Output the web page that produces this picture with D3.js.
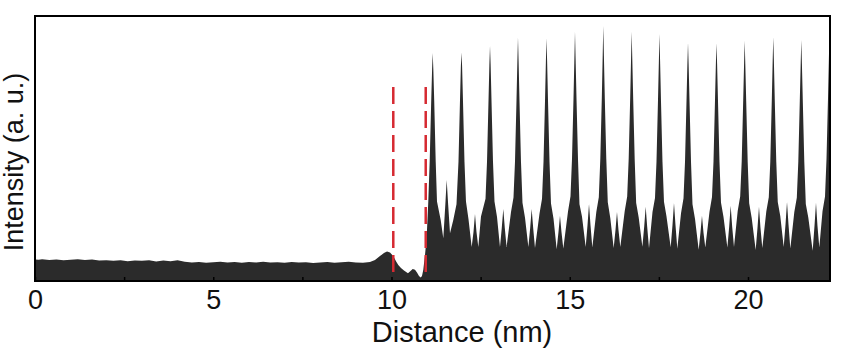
<!DOCTYPE html>
<html>
<head>
    <meta charset="utf-8">
    <title>Intensity profile</title>
    <script type="text/javascript" src="https://cdn.jsdelivr.net/npm/d3@7"></script>
    <style type="text/css">
        body { margin: 0; background: #fff; }
        text { font-family: "Liberation Sans", Arial, sans-serif; fill: #111; }
        .axis text { font-size: 27px; }
        .axis line { stroke: #000; stroke-width: 1.5px; }
        .title { font-size: 29px; }
        .ytitle { font-size: 27px; }
    </style>
</head>
<body>
<script type="text/javascript">
    // profile: distance (nm) / intensity (a.u., 0-100)
    var distance = [
        0.0, 0.1, 0.2, 0.4, 0.6, 0.8, 1.0, 1.2, 1.4, 1.6, 1.8, 2.0, 2.2, 2.4, 2.6, 2.8,
        3.0, 3.2, 3.4, 3.6, 3.8, 4.0, 4.2, 4.4, 4.6, 4.8, 5.0, 5.2, 5.4, 5.6, 5.8, 6.0,
        6.2, 6.4, 6.6, 6.8, 7.0, 7.2, 7.4, 7.6, 7.8, 8.0, 8.2, 8.4, 8.6, 8.8, 9.0, 9.2,
        9.397, 9.537, 9.677, 9.789, 9.874, 9.958, 10.050, 10.126, 10.190, 10.266, 10.350,
        10.462, 10.533, 10.595, 10.659, 10.715, 10.771, 10.819, 10.855, 10.892, 10.940,
        10.987, 11.032, 11.071, 11.114, 11.139, 11.156, 11.173, 11.198, 11.240, 11.276,
        11.380, 11.453, 11.509, 11.548, 11.590, 11.641, 11.733, 11.823, 11.879, 11.921,
        11.946, 11.963, 11.980, 12.005, 12.047, 12.089, 12.159, 12.249, 12.300, 12.342,
        12.384, 12.435, 12.510,
        12.637, 12.679, 12.721, 12.746, 12.763, 12.780, 12.805, 12.847, 12.889, 12.959,
        13.043, 13.093, 13.136, 13.178, 13.228,
        13.352, 13.422, 13.464, 13.506, 13.531, 13.548, 13.565, 13.590, 13.632, 13.674, 13.744,
        13.839, 13.890, 13.932, 13.974, 14.025,
        14.152, 14.222, 14.264, 14.306, 14.331, 14.348, 14.365, 14.390, 14.432, 14.474, 14.544,
        14.633, 14.684, 14.726, 14.768, 14.819,
        14.951, 15.021, 15.063, 15.105, 15.130, 15.147, 15.164, 15.189, 15.231, 15.273, 15.343,
        15.447, 15.498, 15.540, 15.582, 15.633,
        15.745, 15.815, 15.857, 15.899, 15.924, 15.941, 15.958, 15.983, 16.025, 16.067, 16.137,
        16.232, 16.283, 16.325, 16.367, 16.418,
        16.541, 16.611, 16.653, 16.695, 16.720, 16.737, 16.754, 16.779, 16.821, 16.863, 16.933,
        17.037, 17.088, 17.130, 17.172, 17.223,
        17.321, 17.391, 17.433, 17.475, 17.500, 17.517, 17.534, 17.559, 17.601, 17.643, 17.713,
        17.831, 17.882, 17.924, 17.966, 18.017,
        18.121, 18.191, 18.233, 18.275, 18.300, 18.317, 18.334, 18.359, 18.401, 18.443, 18.513,
        18.616, 18.667, 18.709, 18.751, 18.802,
        18.920, 18.990, 19.032, 19.074, 19.099, 19.116, 19.133, 19.158, 19.200, 19.242, 19.312,
        19.421, 19.472, 19.514, 19.556, 19.607,
        19.711, 19.781, 19.823, 19.865, 19.890, 19.907, 19.924, 19.949, 19.991, 20.033, 20.103,
        20.215, 20.266, 20.308, 20.350, 20.401,
        20.513, 20.583, 20.625, 20.667, 20.692, 20.709, 20.726, 20.751, 20.793, 20.835, 20.905,
        21.001, 21.052, 21.094, 21.136, 21.187,
        21.299, 21.369, 21.411, 21.453, 21.478, 21.495, 21.512, 21.537, 21.579, 21.621, 21.691,
        21.814, 21.865, 21.907, 21.949, 22.000,
        22.090, 22.160, 22.202, 22.244, 22.269, 22.286, 22.300
    ];

    var intensity = [
        8.1, 8.0, 8.2, 7.9, 8.1, 7.8, 8.0, 8.2, 7.9, 8.1, 7.7, 7.8, 7.6, 7.8, 7.5, 7.7,
        7.6, 7.8, 7.4, 7.7, 7.5, 7.8, 7.3, 7.0, 7.2, 6.9, 7.1, 7.3, 7.0, 7.2, 6.9, 7.2,
        7.0, 7.3, 7.0, 7.1, 6.9, 7.2, 7.0, 7.1, 6.8, 7.0, 7.2, 6.9, 7.1, 7.3, 7.0, 6.9,
        7.2, 7.9, 9.4, 10.6, 11.1, 10.8, 9.4, 7.5, 6.0, 4.9, 4.0,
        2.9, 3.8, 4.5, 4.2, 3.2, 1.9, 1.3, 1.9, 4.2, 9.8,
        16.7, 30.0, 45.0, 68.0, 80.0, 86.0, 80.0, 68.0, 45.0, 30.0,
        23.0, 16.1, 28.7, 38.1, 28.7, 18.0, 23.0, 29.0, 45.0, 68.0,
        81.0, 86.2, 81.0, 68.0, 45.0, 30.0, 23.4, 12.8, 18.5, 25.3,
        18.5, 12.8, 24.3,
        31.0, 45.0, 68.0, 82.0, 88.7, 82.0, 68.0, 45.0, 30.0, 24.2,
        12.8, 20.0, 27.2, 20.0, 12.8,
        26.0, 31.5, 45.0, 68.0, 83.0, 92.0, 83.0, 68.0, 45.0, 29.5, 24.0,
        12.8, 20.0, 27.2, 20.0, 12.5,
        25.5, 31.0, 45.0, 68.0, 83.0, 91.6, 83.0, 68.0, 45.0, 29.2, 23.6,
        12.0, 18.5, 24.6, 18.5, 12.3,
        26.2, 32.0, 46.0, 69.0, 84.0, 94.1, 84.0, 69.0, 46.0, 29.0, 24.3,
        12.8, 21.0, 29.1, 21.0, 12.6,
        26.0, 31.6, 46.0, 69.0, 85.0, 96.2, 85.0, 69.0, 46.0, 29.7, 23.8,
        12.5, 19.2, 26.0, 19.2, 12.8,
        26.3, 31.9, 46.0, 69.0, 84.0, 94.1, 84.0, 69.0, 46.0, 29.4, 24.1,
        12.9, 20.5, 28.0, 20.5, 12.4,
        26.0, 31.3, 45.0, 68.0, 83.0, 93.2, 83.0, 68.0, 45.0, 29.9, 24.4,
        12.7, 21.1, 29.4, 21.1, 12.2,
        25.6, 31.2, 45.0, 68.0, 82.0, 89.9, 82.0, 68.0, 45.0, 29.0, 23.5,
        11.8, 18.3, 24.6, 18.3, 12.6,
        26.1, 31.7, 45.0, 68.0, 82.0, 89.7, 82.0, 68.0, 45.0, 29.6, 24.2,
        12.6, 20.5, 28.4, 20.5, 12.8,
        26.4, 32.0, 45.0, 68.0, 82.0, 90.7, 82.0, 68.0, 45.0, 29.3, 23.9,
        11.7, 20.0, 28.0, 20.0, 12.5,
        26.2, 31.6, 45.0, 68.0, 83.0, 92.0, 83.0, 68.0, 45.0, 29.8, 24.5,
        12.8, 21.3, 29.8, 21.3, 12.3,
        26.0, 31.4, 45.0, 68.0, 82.0, 90.9, 82.0, 68.0, 45.0, 29.1, 24.0,
        11.4, 20.8, 29.5, 20.8, 12.6,
        26.3, 31.9, 46.0, 69.0, 84.0, 94.3, 86.0
    ];

    var xTicks = [0, 2.5, 5, 7.5, 10, 12.5, 15, 17.5, 20];
    var markers = [10.05, 10.96];   // red dashed guides (nm)
    var markerSpan = [2.3, 73.2];   // their extent in intensity units

    var width = 841, height = 352;
    var margin = {top: 16, right: 11, bottom: 71, left: 35};
    var w = width - margin.left - margin.right,
        h = height - margin.top - margin.bottom;

    var svg = d3.select("body").append("svg")
            .attr("width", width)
            .attr("height", height);

    var g = svg.append("g")
            .attr("transform", "translate(" + margin.left + "," + margin.top + ")");

    var x = d3.scaleLinear().domain([0, 22.3]).range([0, w]);
    var y = d3.scaleLinear().domain([0, 100]).range([h, 0]);

    var data = distance.map(function (d, i) { return [d, intensity[i]]; });

    g.append("clipPath").attr("id", "clip")
        .append("rect").attr("width", w).attr("height", h);

    var area = d3.area()
            .x(function (d) { return x(d[0]); })
            .y0(h)
            .y1(function (d) { return y(d[1]); });

    g.append("path")
        .datum(data)
        .attr("clip-path", "url(#clip)")
        .attr("fill", "#2b2b2b")
        .attr("d", area);

    // dashed guides
    g.selectAll("line.marker")
        .data(markers)
        .enter().append("line")
        .attr("class", "marker")
        .attr("x1", function (d) { return x(d); })
        .attr("x2", function (d) { return x(d); })
        .attr("y1", y(markerSpan[1]))
        .attr("y2", y(markerSpan[0]))
        .attr("stroke", "#d62a32")
        .attr("stroke-width", 2.5)
        .attr("stroke-dasharray", "17,7");

    var xAxis = d3.axisBottom(x)
            .tickValues(xTicks)
            .tickSizeInner(-4)
            .tickSizeOuter(0)
            .tickPadding(9)
            .tickFormat(function (d) { return d % 5 === 0 ? d : ""; });

    var ax = g.append("g")
            .attr("class", "axis")
            .attr("transform", "translate(0," + h + ")")
            .call(xAxis);
    ax.select(".domain").remove();
    ax.selectAll("text").attr("fill", "#111").attr("dy", "0.71em");

    // frame
    g.append("rect")
        .attr("width", w)
        .attr("height", h)
        .attr("fill", "none")
        .attr("stroke", "#000")
        .attr("stroke-width", 2);

    svg.append("text")
        .attr("class", "title")
        .attr("x", 462)
        .attr("y", 342)
        .attr("text-anchor", "middle")
        .text("Distance (nm)");

    svg.append("text")
        .attr("class", "ytitle")
        .attr("transform", "translate(23," + 162 + ") rotate(-90)")
        .attr("text-anchor", "middle")
        .text("Intensity (a. u.)");
</script>
</body>
</html>
